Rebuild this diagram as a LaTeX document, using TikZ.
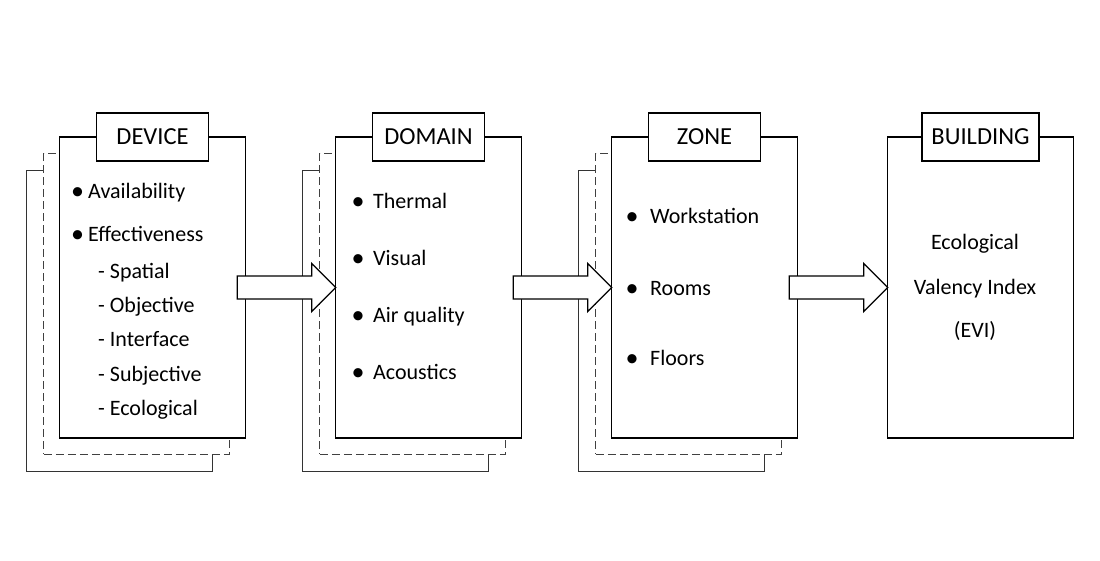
\documentclass[tikz,border=0pt]{standalone}
\usepackage{fontspec}
\setmainfont{Carlito}
\usetikzlibrary{calc}
\begin{document}
\begin{tikzpicture}[x=1pt,y=-1pt,
  mainbox/.style={draw,line width=1.3pt,fill=white,minimum width=185.5pt,minimum height=301pt,inner sep=0pt,outer sep=0pt},
  dashbox/.style={mainbox,dash pattern=on 8pt off 4pt,line width=1pt,draw=black!75},
  backbox/.style={mainbox,line width=1pt,draw=black!80},
  titlebox/.style={draw,line width=1.3pt,fill=white,minimum width=112pt,minimum height=48pt,inner sep=0pt,font=\fontsize{24.5}{28}\selectfont},
  item/.style={anchor=base west,inner sep=0pt,font=\fontsize{22}{26}\selectfont},
  bul/.style={anchor=base,inner sep=0pt,font=\fontsize{26}{30}\selectfont},
  ctext/.style={anchor=base,inner sep=0pt,font=\fontsize{22}{26}\selectfont},
  blockarrow/.style={draw,line width=1.3pt,fill=white,line join=miter}
]
\useasboundingbox (0,0) rectangle (1100,560);
\coordinate (devc) at (152.5,287.5);
\coordinate (domc) at (428.5,287.5);
\coordinate (zonc) at (704.5,287.5);
\coordinate (bldc) at (980.5,287.5);
% DEVICE
\node[backbox] (devB) at ($(devc)+(-33,33)$) {};
\node[dashbox] (devD) at ($(devc)+(-16,16)$) {};
\node[mainbox] (dev) at (devc) {};
\node[titlebox] (devT) at (dev.north) {DEVICE};
% DOMAIN
\node[backbox] (domB) at ($(domc)+(-33,33)$) {};
\node[dashbox] (domD) at ($(domc)+(-16,16)$) {};
\node[mainbox] (dom) at (domc) {};
\node[titlebox] (domT) at (dom.north) {DOMAIN};
% ZONE
\node[backbox] (zonB) at ($(zonc)+(-33,33)$) {};
\node[dashbox] (zonD) at ($(zonc)+(-16,16)$) {};
\node[mainbox] (zon) at (zonc) {};
\node[titlebox] (zonT) at (zon.north) {ZONE};
% BUILDING
\node[mainbox] (bld) at (bldc) {};
\node[titlebox,minimum width=117pt] (bldT) at (bld.north) {BUILDING};
% Device items
\node[bul] (b1) at (77.5,199) {•};
\node[item] (t1) at (88,198) {Availability};
\node[bul] (b2) at (77.5,242) {•};
\node[item] (t2) at (88,241) {Effectiveness};
\node[item] (s1) at (98,278) {- Spatial};
\node[item] (s2) at (98,312) {- Objective};
\node[item] (s3) at (98,346) {- Interface};
\node[item] (s4) at (98,381) {- Subjective};
\node[item] (s5) at (98,415) {- Ecological};
% Domain items
\node[bul] (d1b) at (358,209) {•};
\node[item] (d1) at (373,208) {Thermal};
\node[bul] (d2b) at (358,266) {•};
\node[item] (d2) at (373,265) {Visual};
\node[bul] (d3b) at (358,323) {•};
\node[item] (d3) at (373,322) {Air quality};
\node[bul] (d4b) at (358,380) {•};
\node[item] (d4) at (373,379) {Acoustics};
% Zone items
\node[bul] (z1b) at (632,224) {•};
\node[item] (z1) at (650,223) {Workstation};
\node[bul] (z2b) at (632,296) {•};
\node[item] (z2) at (650,295) {Rooms};
\node[bul] (z3b) at (632,366) {•};
\node[item] (z3) at (650,365) {Floors};
% Building text
\node[ctext] (e1) at (975,249) {Ecological};
\node[ctext] (e2) at (975,294) {Valency Index};
\node[ctext] (e3) at (975,337) {(EVI)};
% Arrows
\foreach \a/\b in {dev/dom, dom/zon, zon/bld}{
  \draw[blockarrow] ($(\a.east)+(-8,-11.5)$) -- ($(\b.west)+(-24,-11.5)$) -- ($(\b.west)+(-24,-24)$) -- (\b.west) -- ($(\b.west)+(-24,24)$) -- ($(\b.west)+(-24,11.5)$) -- ($(\a.east)+(-8,11.5)$) -- cycle;
}
\end{tikzpicture}
\end{document}
